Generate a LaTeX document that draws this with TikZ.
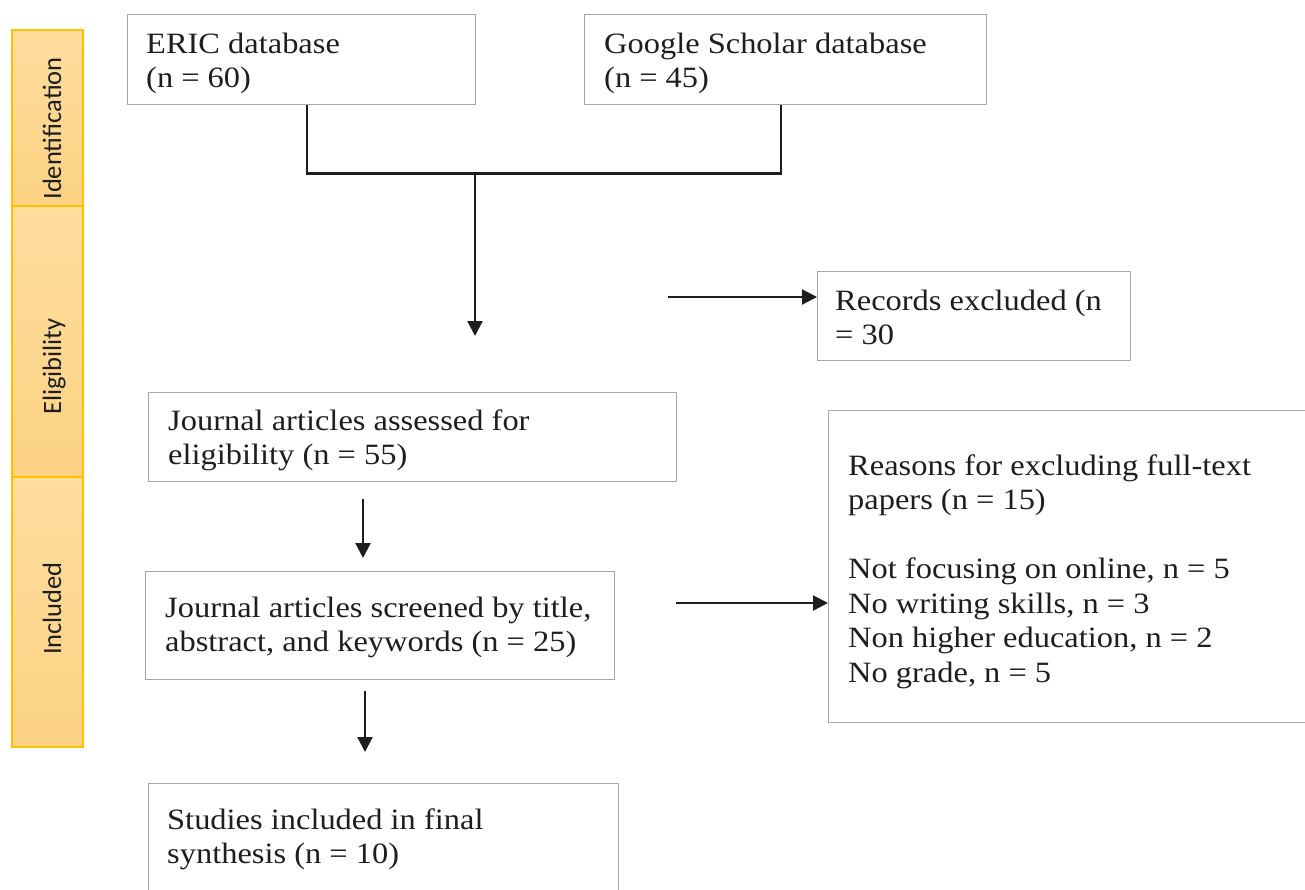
\documentclass[tikz,border=0pt]{standalone}
\usepackage{fontspec}
\setmainfont[FakeStretch=1.1]{Liberation Serif}
\newfontfamily\sidefont{Carlito}
\usetikzlibrary{arrows.meta}
\definecolor{boxgray}{HTML}{A6A6A6}
\definecolor{ink}{HTML}{1E1E1E}
\definecolor{sideline}{HTML}{FFC000}
\definecolor{sidetop}{HTML}{FEDD9E}
\definecolor{sidebot}{HTML}{FCD283}
\newcommand\txtlines[1]{\begin{tabular}[t]{@{}l@{}}#1\end{tabular}}
\begin{document}
\begin{tikzpicture}[x=1pt,y=-1pt,
  box/.style={draw=boxgray,line width=1.4pt,anchor=north west,inner sep=0pt},
  side/.style={draw=sideline,line width=1.6pt,top color=sidetop,bottom color=sidebot,anchor=north west,inner sep=0pt,minimum width=71pt},
  sidetxt/.style={font=\sidefont\fontsize{26.5}{30}\selectfont,text=ink,rotate=90,anchor=base,inner sep=0pt},
  txt/.style={font=\fontsize{29.5}{34.5}\selectfont,text=ink,anchor=base west,inner sep=0pt},
  conn/.style={draw=ink,line width=2.2pt},
  arr/.style={conn,-{Triangle[length=15pt,width=15pt]}}]
\useasboundingbox (0,0) rectangle (1305,889);
\clip (0,0) rectangle (1305,889);
\fill[white] (0,0) rectangle (1305,889);

% sidebar
\node[side,minimum height=176pt] (ident) at (11,29) {};
\node[side,minimum height=271pt] (elig) at (11,205) {};
\node[side,minimum height=270pt] (incl) at (11,476) {};
\node[sidetxt] (ident-t) at (61,128.5) {Identification};
\node[sidetxt] (elig-t) at (61,366.5) {Eligibility};
\node[sidetxt] (incl-t) at (61,608.5) {Included};

% boxes
\node[box,minimum width=348pt,minimum height=90pt] (eric) at (127,14) {};
\node[box,minimum width=402pt,minimum height=90pt] (google) at (584,14) {};
\node[box,minimum width=313pt,minimum height=89pt] (records) at (817,271) {};
\node[box,minimum width=528pt,minimum height=89pt] (assess) at (148,392) {};
\node[box,minimum width=469pt,minimum height=108pt] (screen) at (145,571) {};
\node[box,minimum width=490pt,minimum height=312pt] (reasons) at (828,410) {};
\node[box,minimum width=470pt,minimum height=130pt] (studies) at (148,783) {};

% texts
\node[txt] (eric-t) at (146,53) {\txtlines{ERIC database\\(n = 60)}};
\node[txt] (google-t) at (604,53) {\txtlines{Google Scholar database\\(n = 45)}};
\node[txt] (records-t) at (835,310) {\txtlines{Records excluded (n\\= 30}};
\node[txt] (assess-t) at (168,430) {\txtlines{Journal articles assessed for\\eligibility (n = 55)}};
\node[txt] (screen-t) at (165,617) {\txtlines{Journal articles screened by title,\\abstract, and keywords (n = 25)}};
\node[txt] (studies-t) at (167,829) {\txtlines{Studies included in final\\synthesis (n = 10)}};
\node[txt] (reasons-t) at (848,475) {\txtlines{Reasons for excluding full-text\\papers (n = 15)\\ \\Not focusing on online, n = 5\\No writing skills, n = 3\\Non higher education, n = 2\\No grade, n = 5}};

% connectors
\draw[conn] ([xshift=5pt]eric.south) -- ++(0,68) -| ([xshift=-5pt]google.south);
\coordinate (merge) at (475,172);
\coordinate (merge-end) at (475,336);
\draw[arr] (merge) -- (merge-end);
\coordinate (excl-start) at (668,297);
\draw[arr] (excl-start) -- (excl-start -| records.west);
\coordinate (a1s) at (363,499);
\coordinate (a1e) at (363,558);
\draw[arr] (a1s) -- (a1e);
\coordinate (ft-start) at (676,603);
\draw[arr] (ft-start) -- (ft-start -| reasons.west);
\coordinate (a2s) at (365,691);
\coordinate (a2e) at (365,752);
\draw[arr] (a2s) -- (a2e);
\end{tikzpicture}
\end{document}
